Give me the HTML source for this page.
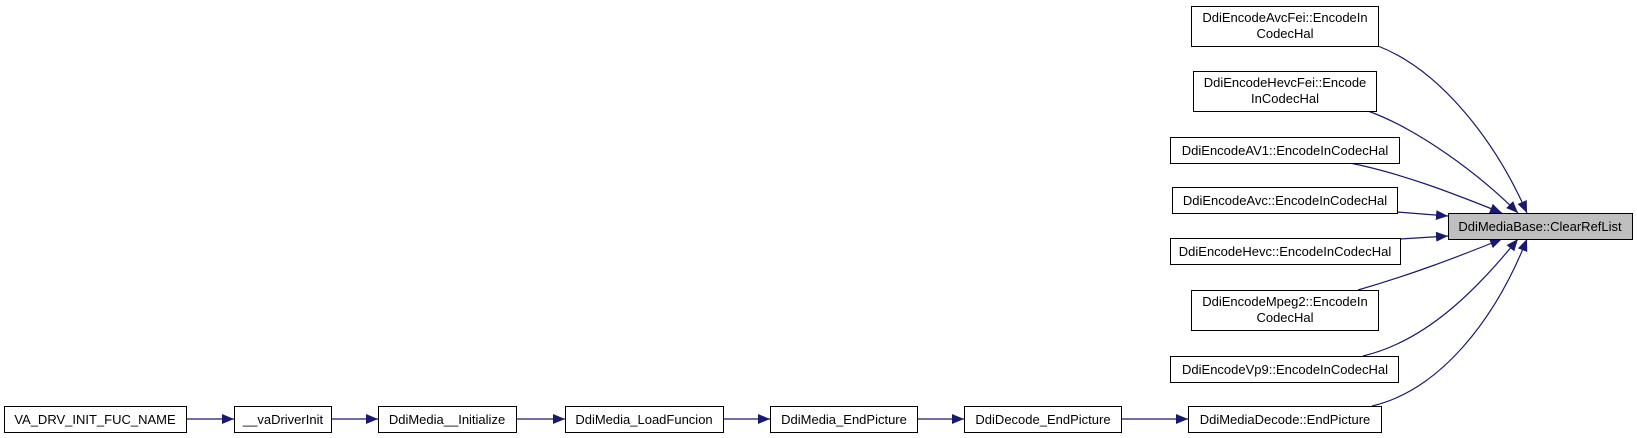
<!DOCTYPE html>
<html><head><meta charset="utf-8"><style>
html,body{margin:0;padding:0;background:#fff;}
svg{display:block;}
text{font-family:"Liberation Sans",Arial,sans-serif;font-size:13px;fill:#000;}
</style></head><body>
<svg width="1637" height="438" viewBox="0 0 1637 438" xmlns="http://www.w3.org/2000/svg">
<defs><marker id="a" viewBox="0 0 12 10" refX="12" refY="5" markerWidth="12" markerHeight="10" markerUnits="userSpaceOnUse" orient="auto"><path d="M0,0 L12,5 L0,10 Z" fill="#191970"/></marker></defs>
<g fill="none" stroke="#191970" stroke-width="1.2">
<path d="M1378,46 C1440,70 1495,140 1527,213" marker-end="url(#a)"/>
<path d="M1368,111 C1420,130 1480,175 1518,213" marker-end="url(#a)"/>
<path d="M1350,163 C1400,173 1450,192 1502,213" marker-end="url(#a)"/>
<path d="M1397,212 L1448,216" marker-end="url(#a)"/>
<path d="M1400,239 L1448,236" marker-end="url(#a)"/>
<path d="M1358,290 C1410,275 1455,258 1502,239" marker-end="url(#a)"/>
<path d="M1363,356 C1430,340 1480,285 1518,239" marker-end="url(#a)"/>
<path d="M1372,406 C1440,390 1495,320 1527,239" marker-end="url(#a)"/>
<path d="M186,419 L234,419" marker-end="url(#a)"/>
<path d="M331,419 L378,419" marker-end="url(#a)"/>
<path d="M516,419 L565,419" marker-end="url(#a)"/>
<path d="M723,419 L770,419" marker-end="url(#a)"/>
<path d="M917,419 L964,419" marker-end="url(#a)"/>
<path d="M1121,419 L1188,419" marker-end="url(#a)"/>
</g>
<g stroke="#000" stroke-width="1" fill="#fff">
<rect x="1191.5" y="6.5" width="187" height="40"/>
<rect x="1193.5" y="71.5" width="183" height="40"/>
<rect x="1170.5" y="137.5" width="229" height="26"/>
<rect x="1172.5" y="187.5" width="225" height="26"/>
<rect x="1170.5" y="238.5" width="230" height="26"/>
<rect x="1191.5" y="290.5" width="187" height="40"/>
<rect x="1170.5" y="356.5" width="228" height="26"/>
<rect x="1188.5" y="406.5" width="193" height="26"/>
<rect x="1448.5" y="213.5" width="184" height="26" fill="#bfbfbf"/>
<rect x="4.5" y="406.5" width="182" height="26"/>
<rect x="234.5" y="406.5" width="97" height="26"/>
<rect x="378.5" y="406.5" width="138" height="26"/>
<rect x="565.5" y="406.5" width="158" height="26"/>
<rect x="770.5" y="406.5" width="147" height="26"/>
<rect x="964.5" y="406.5" width="157" height="26"/>
</g>
<g text-anchor="middle">
<text x="1285" y="22">DdiEncodeAvcFei::EncodeIn</text>
<text x="1285" y="38">CodecHal</text>
<text x="1285" y="87">DdiEncodeHevcFei::Encode</text>
<text x="1285" y="103">InCodecHal</text>
<text x="1285" y="155">DdiEncodeAV1::EncodeInCodecHal</text>
<text x="1285" y="205">DdiEncodeAvc::EncodeInCodecHal</text>
<text x="1285" y="256">DdiEncodeHevc::EncodeInCodecHal</text>
<text x="1285" y="306">DdiEncodeMpeg2::EncodeIn</text>
<text x="1285" y="322">CodecHal</text>
<text x="1285" y="374">DdiEncodeVp9::EncodeInCodecHal</text>
<text x="1285" y="424">DdiMediaDecode::EndPicture</text>
<text x="1540" y="231">DdiMediaBase::ClearRefList</text>
<text x="95" y="424">VA_DRV_INIT_FUC_NAME</text>
<text x="283" y="424">__vaDriverInit</text>
<text x="447" y="424">DdiMedia__Initialize</text>
<text x="644" y="424">DdiMedia_LoadFuncion</text>
<text x="844" y="424">DdiMedia_EndPicture</text>
<text x="1043" y="424">DdiDecode_EndPicture</text>
</g>
</svg>
</body></html>
